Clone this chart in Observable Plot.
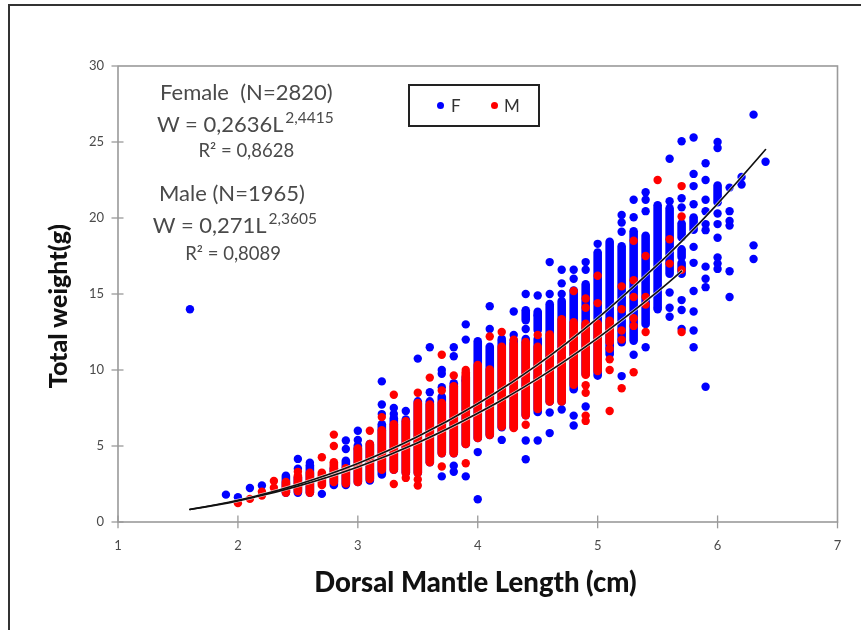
<!DOCTYPE html>
<html>
<head>
<meta charset="utf-8">
<script src="https://cdn.jsdelivr.net/npm/d3@7"></script>
<script src="https://cdn.jsdelivr.net/npm/@observablehq/plot@0.6"></script>
<style>
html,body{margin:0;padding:0;background:#fff;}
#page{position:relative;width:861px;height:630px;overflow:hidden;font-family:Lato,sans-serif;filter:blur(0.45px);}
#sheet{position:absolute;left:8px;top:4px;width:900px;height:700px;border:2px solid #333;box-sizing:border-box;}
#chart{position:absolute;left:0;top:0;}
#legend{position:absolute;left:408px;top:84px;width:132px;height:43px;box-sizing:border-box;border:2px solid #222;background:#fff;font-size:17px;color:#333;}
#legend i{position:absolute;top:16px;width:7px;height:7px;border-radius:50%;}
#legend span{position:absolute;top:10px;line-height:20px;}
</style>
</head>
<body>
<div id="page">
<div id="sheet"></div>
<div id="chart"></div>
<div id="legend"><i style="left:27px;background:#0000ff"></i><span style="left:41px">F</span><i style="left:81px;background:#ff0000"></i><span style="left:94px">M</span></div>
</div>
<script>
// dense vertical runs of overlapping points: length class, lowest and highest weight
const femaleRunL  = [2.4,2.5,2.6,2.8,2.9,3.0,3.1,3.2,3.3,3.4,3.5,3.6,3.7,3.8,3.9,4.0,4.1,4.2,4.3,4.4,4.4,4.5,4.5,4.6,4.7,4.8,4.9,5.0,5.1,5.2,5.3,5.4,5.5,5.6,5.7,5.7,5.7,5.8,6.0];
const femaleRunLo = [1.9,1.9,1.9,2.4,2.4,2.6,2.7,3.1,3.4,3.2,3.2,3.9,4.5,4.5,5.1,5.5,5.7,6.2,6.2,7.0,13.25,7.2,12.6,7.9,7.9,8.7,9.7,9.6,11.0,11.8,11.9,13.0,14.1,16.3,18.7,17.4,16.3,19.2,21.0];
const femaleRunHi = [3.0,2.9,3.7,3.5,4.0,5.0,5.1,6.4,6.8,6.7,7.9,7.9,8.2,9.1,9.5,11.85,11.5,11.9,11.9,12.0,13.9,12.0,13.8,14.3,14.5,15.2,15.6,17.7,18.4,18.1,19.1,18.8,20.8,20.6,19.6,17.9,17.0,20.0,22.1];
const femaleDotL = [1.6,1.9,2.0,2.1,2.2,2.5,2.5,2.6,2.7,2.9,2.9,3.0,3.0,3.2,3.2,3.2,3.3,3.3,3.4,3.5,3.6,3.6,3.7,3.7,3.7,3.7,3.8,3.8,3.8,3.8,3.9,3.9,3.9,3.9,4.0,4.0,4.1,4.1,4.2,4.2,4.3,4.3,4.4,4.4,4.4,4.4,4.5,4.5,4.5,4.6,4.6,4.6,4.6,4.7,4.7,4.7,4.7,4.8,4.8,4.8,4.8,4.9,4.9,4.9,5.0,5.2,5.2,5.2,5.2,5.3,5.3,5.3,5.4,5.4,5.4,5.4,5.5,5.6,5.6,5.6,5.6,5.6,5.7,5.7,5.7,5.7,5.7,5.7,5.8,5.8,5.8,5.8,5.8,5.8,5.8,5.8,5.8,5.8,5.9,5.9,5.9,5.9,5.9,5.9,5.9,5.9,5.9,5.9,6.0,6.0,6.0,6.0,6.0,6.0,6.0,6.0,6.1,6.1,6.1,6.1,6.1,6.1,6.2,6.2,6.3,6.3,6.3,6.4];
const femaleDotW = [14.0,1.8,1.63,2.24,2.4,4.15,3.5,3.9,1.85,5.36,4.8,6.0,5.4,9.25,7.73,7.1,7.5,7.1,7.3,10.75,11.5,8.54,10.0,9.75,8.87,3.0,11.5,10.9,3.7,3.3,13.0,12.0,9.3,3.0,4.6,1.5,14.2,12.7,12.05,5.4,13.85,12.3,15.0,12.7,5.36,4.13,14.9,13.6,5.36,17.1,15.0,7.2,5.85,16.6,15.7,15.0,7.4,16.6,16.0,6.35,7.0,17.1,16.6,7.6,18.3,20.2,19.7,19.1,9.6,21.2,20.05,11.0,21.7,21.2,20.45,11.5,14.0,23.9,21.1,15.1,14.1,13.5,25.05,21.3,20.7,14.6,13.95,12.7,25.3,22.9,22.1,20.9,18.1,17.05,15.2,13.85,12.6,11.5,23.6,22.5,21.2,20.45,19.6,19.2,16.8,16.0,15.45,8.9,25.0,24.6,19.6,18.7,17.4,17.0,16.65,20.3,22.0,20.45,19.8,19.5,16.5,14.8,22.7,22.2,26.8,18.2,17.3,23.7];

const maleRunL  = [2.4,2.5,2.6,2.7,2.8,2.9,3.0,3.1,3.2,3.3,3.4,3.5,3.6,3.7,3.8,3.9,4.0,4.1,4.2,4.3,4.4,4.5,4.6,4.7,4.8,4.9,5.0,5.1];
const maleRunLo = [1.9,2.0,1.9,2.4,2.6,2.5,2.6,2.8,3.4,3.4,3.2,3.2,3.9,4.5,4.5,5.1,5.5,5.7,6.25,6.15,7.0,7.4,7.9,7.9,9.0,9.65,9.9,11.8];
const maleRunHi = [2.6,3.0,3.2,3.2,3.9,3.5,4.8,5.1,6.0,6.4,6.6,7.8,7.7,7.8,8.9,9.8,10.3,10.0,11.5,11.7,11.8,11.5,12.3,13.3,13.1,13.0,13.0,13.2];
const maleDotL = [2.0,2.1,2.2,2.2,2.3,2.3,2.5,2.7,2.8,2.8,3.0,3.1,3.2,3.3,3.3,3.4,3.5,3.5,3.5,3.6,3.7,3.7,3.7,3.8,3.9,3.9,4.1,4.2,4.3,4.4,4.5,4.8,4.9,4.9,4.9,4.9,4.9,4.9,5.0,5.0,5.1,5.1,5.1,5.1,5.2,5.2,5.2,5.2,5.2,5.3,5.3,5.3,5.3,5.3,5.3,5.4,5.4,5.4,5.4,5.5,5.6,5.6,5.7,5.7,5.7,5.7];
const maleDotW = [1.24,1.52,2.0,1.74,2.7,2.25,3.3,4.26,5.75,5.0,4.8,6.0,6.9,8.37,2.5,2.9,8.5,2.4,2.8,9.5,11.0,8.65,3.65,9.64,10.0,3.87,12.2,12.5,12.0,6.4,12.3,15.2,14.7,14.1,9.0,8.5,7.0,6.65,14.4,16.2,11.4,10.7,10.0,7.3,15.5,14.0,12.6,12.0,8.8,18.5,15.9,14.8,13.4,12.9,9.85,17.5,14.8,14.3,12.5,22.5,18.6,17.0,22.1,20.1,16.6,12.5];

// fitted curves
const femaleFitL = [1.6,2,2.5,3,3.5,4,4.5,5,5.5,5.7,6,6.4];
const femaleFitW = [0.83,1.43,2.47,3.85,5.62,7.78,10.35,13.41,16.93,18.46,20.93,24.5];
const maleFitL = [1.6,2,2.5,3,3.5,4,4.5,5,5.5,5.7];
const maleFitW = [0.82,1.39,2.36,3.62,5.21,7.15,9.43,12.1,15.15,16.5];

const xTicks = [1,2,3,4,5,6,7];
const yTicks = [0,5,10,15,20,25,30];
const zip = (a,b) => a.map((v,i) => [v,b[i]]);
const runs = (l,lo,hi) => l.map((v,i) => ({l:v,lo:lo[i],hi:hi[i]}));

const BLUE = "#0000ff", RED = "#ff0000", AX = "#9a9a9a", TXT = "#4a4a4a";
const runOpts = c => ({x:"l",y1:"lo",y2:"hi",stroke:c,strokeWidth:8.6,strokeLinecap:"round"});
const dotOpts = c => ({x:d=>d[0],y:d=>d[1],r:4.2,fill:c});
const fitOpts = {x:d=>d[0],y:d=>d[1],curve:"catmull-rom"};
const label = (t,x,y,size,anchor) => Plot.text([t],{x:()=>x,y:()=>y,text:d=>d,fontSize:size,textAnchor:anchor,fill:TXT,fontFamily:"Lato, sans-serif"});

const chart = Plot.plot({
  width:861,height:630,
  marginLeft:117.5,marginRight:24,marginTop:65.5,marginBottom:108.5,
  style:{background:"transparent",fontFamily:"Lato, sans-serif"},
  x:{domain:[1,7]},
  y:{domain:[0,30]},
  marks:[
    Plot.frame({stroke:AX,strokeWidth:1.6}),
    Plot.ruleX(xTicks,{x:d=>d,y1:-0.45,y2:d=>d===7?0:0.4,stroke:AX,strokeWidth:1.3}),
    Plot.ruleY(yTicks,{y:d=>d,x1:0.95,x2:d=>d===30?1:1.05,stroke:AX,strokeWidth:1.3}),
    Plot.axisX({ticks:xTicks,tickFormat:d=>d,tickSize:0,tickPadding:19,fontSize:13,color:TXT,label:null}),
    Plot.axisY({ticks:yTicks,tickFormat:d=>d,tickSize:0,tickPadding:14,fontSize:13,color:TXT,label:null}),
    Plot.ruleX(runs(femaleRunL,femaleRunLo,femaleRunHi),runOpts(BLUE)),
    Plot.dot(zip(femaleDotL,femaleDotW),dotOpts(BLUE)),
    Plot.ruleX(runs(maleRunL,maleRunLo,maleRunHi),runOpts(RED)),
    Plot.dot(zip(maleDotL,maleDotW),dotOpts(RED)),
    Plot.line(zip(femaleFitL,femaleFitW),{...fitOpts,stroke:"#fff",strokeWidth:3,strokeOpacity:.7}),
    Plot.line(zip(maleFitL,maleFitW),{...fitOpts,stroke:"#fff",strokeWidth:3,strokeOpacity:.7}),
    Plot.line(zip(femaleFitL,femaleFitW),{...fitOpts,stroke:"#111",strokeWidth:1.6}),
    Plot.line(zip(maleFitL,maleFitW),{...fitOpts,stroke:"#111",strokeWidth:1.6}),
    label("Female  (N=2820)",2.07,28.25,22,"middle"),
    label("W = 0,2636L",1.325,26.1,22,"start"),
    label("2,4415",2.395,26.6,15.5,"start"),
    label("R² = 0,8628",2.07,24.4,18.5,"middle"),
    label("Male (N=1965)",1.95,21.55,22,"middle"),
    label("W = 0,271L",1.29,19.45,22,"start"),
    label("2,3605",2.255,19.95,15.5,"start"),
    label("R² = 0,8089",1.96,17.65,18.5,"middle"),
    Plot.text(["Dorsal Mantle Length (cm)"],{x:()=>3.98,y:()=>-4.05,fontSize:27.5,fontWeight:900,fill:"#111",fontFamily:"Lato, sans-serif"}),
    Plot.text(["Total weight(g)"],{x:()=>0.505,y:()=>14.2,rotate:-90,fontSize:25,fontWeight:900,fill:"#111",fontFamily:"Lato, sans-serif"})
  ]
});
document.getElementById("chart").appendChild(chart);
</script>
</body>
</html>
